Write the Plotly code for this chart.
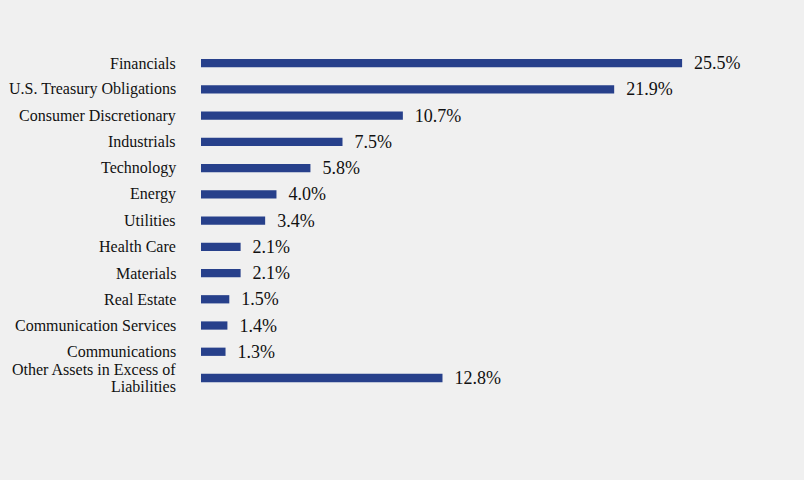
import plotly.graph_objects as go

categories = [
    "Financials",
    "U.S. Treasury Obligations",
    "Consumer Discretionary",
    "Industrials",
    "Technology",
    "Energy",
    "Utilities",
    "Health Care",
    "Materials",
    "Real Estate",
    "Communication Services",
    "Communications",
    "Other Assets in Excess of<br>Liabilities",
]
values = [25.5, 21.9, 10.7, 7.5, 5.8, 4.0, 3.4, 2.1, 2.1, 1.5, 1.4, 1.3, 12.8]
labels = [f"{v:.1f}%" for v in values]

FONT = "Liberation Serif, Times New Roman, serif"

fig = go.Figure(
    go.Bar(
        x=values,
        y=categories,
        orientation="h",
        marker=dict(color="#27408B", line=dict(width=0)),
        width=0.315,
        text=labels,
        texttemplate="  %{text}",
        textposition="outside",
        constraintext="none",
        cliponaxis=False,
        textfont=dict(family=FONT, size=18, color="#111111"),
        hoverinfo="skip",
    )
)

# category labels as annotations (tighter line spacing for wrapped label)
for cat in categories:
    lines = cat.split("<br>")
    n = len(lines)
    for i, line in enumerate(lines):
        fig.add_annotation(
            x=0, xref="paper", y=cat, yref="y",
            text=line, showarrow=False,
            xanchor="right", yanchor="middle",
            xshift=-23, yshift=((n - 1) / 2 - i) * 17,
            font=dict(family=FONT, size=16, color="#111111"),
        )

fig.update_layout(
    width=804,
    height=480,
    margin=dict(l=201, r=37, t=50, b=83),
    paper_bgcolor="#F0F0F0",
    plot_bgcolor="#F0F0F0",
    showlegend=False,
    font=dict(family=FONT, size=16, color="#111111"),
    xaxis=dict(range=[0, 30], visible=False, showgrid=False, zeroline=False, automargin=False),
    yaxis=dict(
        autorange="reversed",
        showgrid=False,
        zeroline=False,
        showline=False,
        ticks="",
        showticklabels=False,
        automargin=False,
    ),
)

fig.write_html("out.html")
